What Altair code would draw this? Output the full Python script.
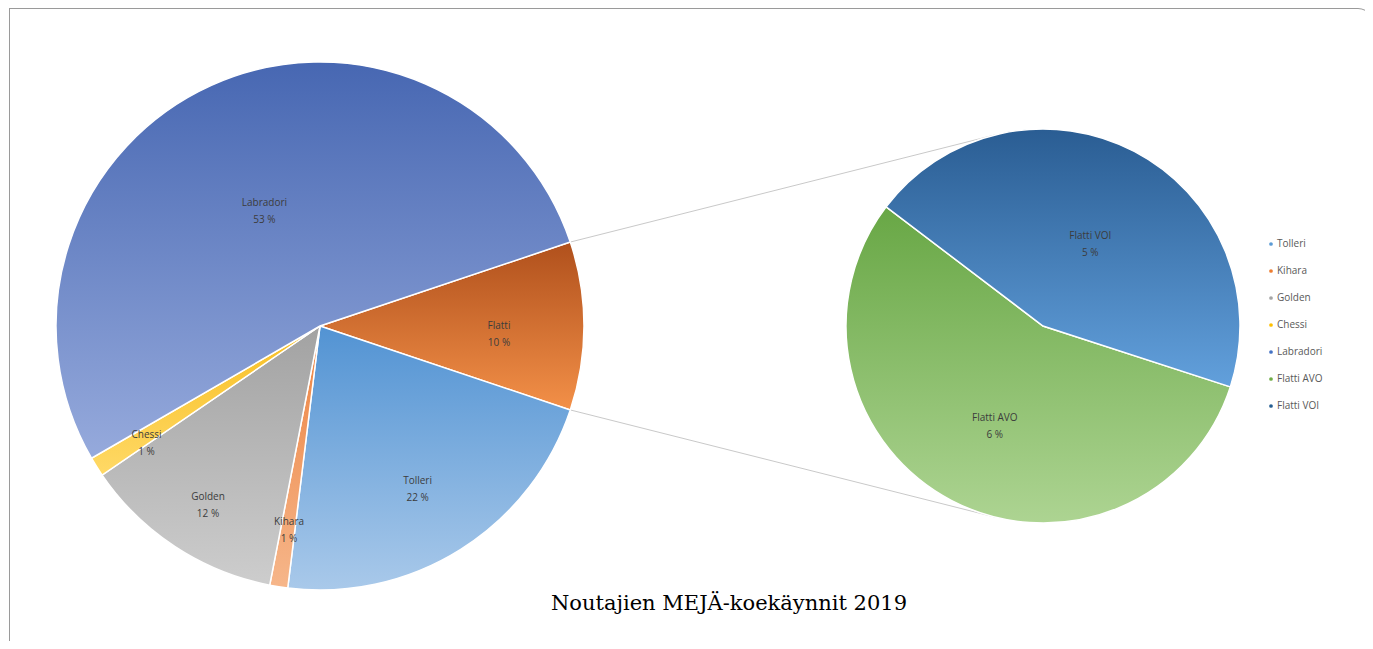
import math
import pandas as pd
import altair as alt

# ---------------- data ----------------
main_cats_rest = ["Tolleri", "Kihara", "Golden", "Chessi", "Labradori"]
main_vals_rest = [21.8, 1.1, 12.4, 1.2, 53.2]
sub_cats = ["Flatti AVO", "Flatti VOI"]
sub_vals = [5.7, 4.6]
other_label = "Flatti"

legend_cats = ["Tolleri", "Kihara", "Golden", "Chessi", "Labradori", "Flatti AVO", "Flatti VOI"]
title_text = "Noutajien MEJÄ-koekäynnit 2019"

main_cats = [other_label] + main_cats_rest
main_vals = [sum(sub_vals)] + main_vals_rest
TOTAL = sum(main_vals)

# ---------------- styles / layout ----------------
legend_colors = ["#5B9BD5", "#ED7D31", "#A5A5A5", "#FFC000", "#4472C4", "#70AD47", "#255E91"]
grad = {
    "Flatti": ("#b0501c", "#f39048"),
    "Tolleri": ("#5293d3", "#a9c9ea"),
    "Kihara": ("#ec8240", "#f6b68a"),
    "Golden": ("#a2a2a2", "#cdcdcd"),
    "Chessi": ("#f7be22", "#ffd966"),
    "Labradori": ("#4767b2", "#96aadc"),
    "Flatti AVO": ("#68a745", "#add492"),
    "Flatti VOI": ("#2a5d93", "#62a0dc"),
}
label_r = {
    "Flatti": 179, "Tolleri": 183, "Kihara": 198, "Golden": 204,
    "Chessi": 205, "Labradori": 135, "Flatti AVO": 104, "Flatti VOI": 102,
}
W, H = 1357, 633
MAIN_C = (312, 318)
MAIN_R = 264
SUB_C = (1035, 318)
SUB_R = 197
MAIN_START = math.pi / 2 - math.pi * main_vals[0] / TOTAL
SUB_START = math.radians(108)
LABEL_FONT = "Open Sans"


def pie_layers(cats, vals, cx, cy, r, start):
    df = pd.DataFrame({"cat": cats, "v": vals, "idx": list(range(len(cats)))})
    base = (
        alt.Chart(df)
        .transform_joinaggregate(tot="sum(v)")
        .transform_window(cum="sum(v)", sort=[alt.SortField("idx")], frame=[None, 0])
        .transform_calculate(t0=f"{start} + 2*PI*(datum.cum - datum.v)/datum.tot")
        .transform_calculate(t1=f"{start} + 2*PI*datum.cum/datum.tot")
        .transform_calculate(tm="(datum.t0 + datum.t1)/2")
        .transform_calculate(
            label=f"datum.cat + '\\n' + format(datum.v*100/{TOTAL}, '.0f') + ' %'"
        )
    )
    layers = []
    for c in cats:
        top, bot = grad[c]
        g = alt.LinearGradient(
            gradient="linear",
            stops=[alt.GradientStop(color=top, offset=0), alt.GradientStop(color=bot, offset=1)],
            x1=0, x2=0, y1=0, y2=1,
        )
        arc = (
            base.transform_filter(alt.datum.cat == c)
            .mark_arc(radius=r, fill=g, stroke="white", strokeWidth=1.5)
            .encode(
                theta=alt.Theta("t0:Q", scale=None),
                theta2="t1:Q",
                x=alt.value(cx),
                y=alt.value(cy),
            )
        )
        layers.append(arc)
    for c in cats:
        txt = (
            base.transform_filter(alt.datum.cat == c)
            .mark_text(
                radius=label_r[c], align="center", baseline="middle", lineBreak="\n",
                lineHeight=17, font=LABEL_FONT, fontSize=10, color="#3c3c3c",
            )
            .encode(
                theta=alt.Theta("tm:Q", scale=None),
                text="label:N",
                x=alt.value(cx),
                y=alt.value(cy),
            )
        )
        layers.append(txt)
    return layers


layers = []

# connector lines (from edges of "other" slice to tangent points of secondary pie)
def tangent(px, py, cx, cy, r, sign):
    d = math.hypot(cx - px, cy - py)
    base_ang = math.atan2(cy - py, cx - px)
    a = base_ang + sign * math.asin(r / d)
    L = math.sqrt(d * d - r * r)
    return px + L * math.cos(a), py + L * math.sin(a)

a0 = MAIN_START
a1 = MAIN_START + 2 * math.pi * main_vals[0] / TOTAL
p_top = (MAIN_C[0] + MAIN_R * math.sin(a0), MAIN_C[1] - MAIN_R * math.cos(a0))
p_bot = (MAIN_C[0] + MAIN_R * math.sin(a1), MAIN_C[1] - MAIN_R * math.cos(a1))
t_top = tangent(p_top[0], p_top[1], SUB_C[0], SUB_C[1], SUB_R, -1)
t_bot = tangent(p_bot[0], p_bot[1], SUB_C[0], SUB_C[1], SUB_R, +1)

one = pd.DataFrame({"k": [0]})
for (p, t) in [(p_top, t_top), (p_bot, t_bot)]:
    layers.append(
        alt.Chart(one).mark_rule(color="#c9c9c9", strokeWidth=1).encode(
            x=alt.value(p[0]), y=alt.value(p[1]), x2=alt.value(t[0]), y2=alt.value(t[1])
        )
    )

layers += pie_layers(main_cats, main_vals, MAIN_C[0], MAIN_C[1], MAIN_R, MAIN_START)
layers += pie_layers(sub_cats, sub_vals, SUB_C[0], SUB_C[1], SUB_R, SUB_START)

# legend
leg_df = pd.DataFrame({"cat": legend_cats, "i": list(range(len(legend_cats)))})
leg_y = alt.Y("i:Q", scale=alt.Scale(domain=[0, len(legend_cats) - 1], range=[236, 398], nice=False, zero=False), axis=None)
layers.append(
    alt.Chart(leg_df).mark_circle(size=14, opacity=1).encode(
        x=alt.value(1263),
        y=leg_y,
        color=alt.Color("cat:N", scale=alt.Scale(domain=legend_cats, range=legend_colors), legend=None),
    )
)
layers.append(
    alt.Chart(leg_df).mark_text(align="left", baseline="middle", font=LABEL_FONT, fontSize=10, color="#595959").encode(
        x=alt.value(1269), y=leg_y, text="cat:N"
    )
)

# title
layers.append(
    alt.Chart(pd.DataFrame({"t": [title_text]})).mark_text(
        font="DejaVu Serif", fontSize=21, color="#000000", align="center", baseline="middle"
    ).encode(x=alt.value(721), y=alt.value(596), text="t:N")
)

# page frame
layers.append(
    alt.Chart(one).mark_rule(color="#9a9a9a", strokeWidth=1).encode(
        x=alt.value(1.5), x2=alt.value(1350), y=alt.value(0.5)
    )
)
layers.append(
    alt.Chart(one).mark_rule(color="#9a9a9a", strokeWidth=1).encode(
        x=alt.value(1.5), y=alt.value(0), y2=alt.value(H)
    )
)
layers.append(
    alt.Chart(one).mark_arc(radius=15, radius2=14, theta=0, theta2=math.pi / 2, fill="#9a9a9a").encode(
        x=alt.value(1350), y=alt.value(15)
    )
)

chart = alt.layer(*layers).properties(
    width=W, height=H, autosize=alt.AutoSizeParams(type="none"), padding=0, background="white"
).configure_view(stroke=None)

chart.save("out.html", embed_options={"renderer": "svg", "actions": False})
